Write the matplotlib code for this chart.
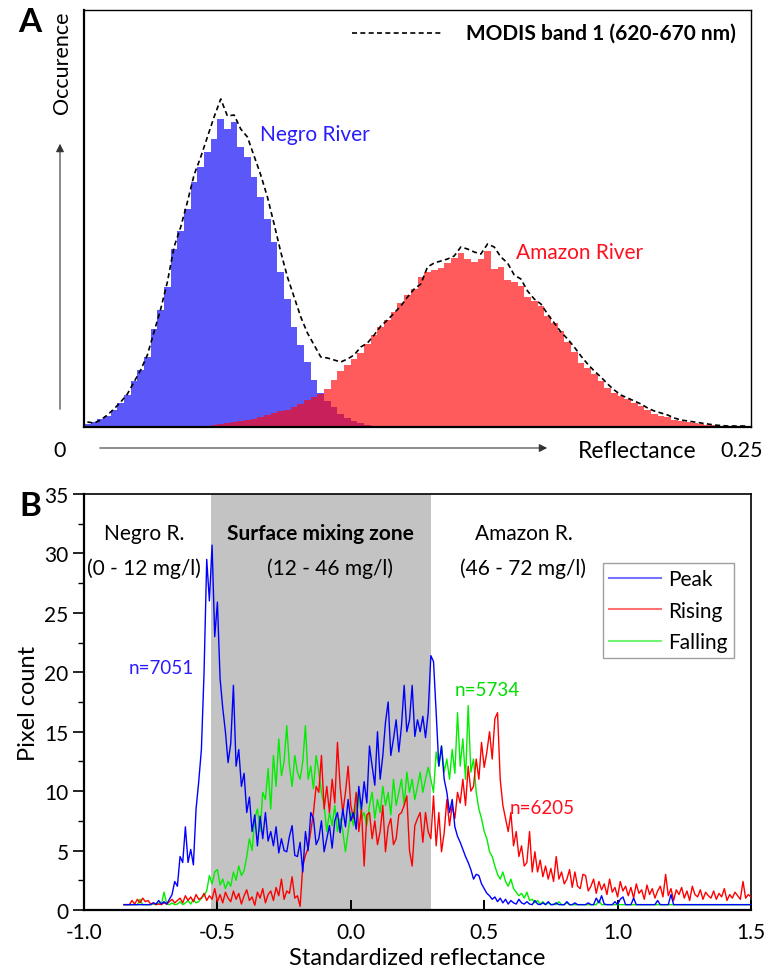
import matplotlib
matplotlib.use("Agg")
import matplotlib.pyplot as plt
import numpy as np

plt.rcParams['font.family'] = ['Lato', 'DejaVu Sans']
plt.rcParams['axes.unicode_minus'] = False

# ---------------- Panel A: reflectance histograms (arbitrary occurrence units) ----------------
refl_edges = np.linspace(0, 0.25, 101)
refl_centers = 0.5 * (refl_edges[:-1] + refl_edges[1:])

negro_hist = [
    3, 5, 8, 11, 17, 24, 32, 46, 57, 70,
    98, 117, 140, 178, 196, 218, 245, 260, 275, 288,
    308, 298, 305, 280, 270, 250, 230, 208, 185, 155,
    128, 100, 82, 65, 47, 34, 26, 20, 13, 9,
    6, 4, 2, 1, 0.5, 0, 0, 0, 0, 0,
    0, 0, 0, 0, 0, 0, 0, 0, 0, 0,
    0, 0, 0, 0, 0, 0, 0, 0, 0, 0,
    0, 0, 0, 0, 0, 0, 0, 0, 0, 0,
    0, 0, 0, 0, 0, 0, 0, 0, 0, 0,
    0, 0, 0, 0, 0, 0, 0, 0, 0, 0,
]
amazon_hist = [
    0, 0, 0, 0, 0, 0, 0, 0, 0, 0,
    0, 0, 0, 0, 0, 0, 0, 0, 0.5, 2,
    3, 4, 5, 6, 7, 8, 10, 12, 14, 16,
    17, 20, 23, 27, 30, 33, 38, 47, 56, 62,
    68, 74, 83, 92, 100, 107, 115, 124, 132, 138,
    150, 155, 157, 159, 164, 169, 174, 168, 165, 168,
    176, 158, 160, 147, 145, 141, 130, 126, 121, 111,
    104, 96, 85, 75, 64, 59, 53, 46, 39, 34,
    31, 28, 24, 21, 17, 13, 11, 10, 7, 6,
    5, 4, 3, 2, 2, 1, 1, 0.5, 0.5, 0.5,
]
modis_hist = [
    5, 4, 7, 12, 18, 25, 33, 45, 57, 72,
    95, 118, 145, 180, 200, 225, 252, 270, 290, 310,
    328, 311, 312, 298, 290, 271, 252, 230, 203, 175,
    150, 130, 110, 94, 82, 70, 69, 67, 65, 68,
    72, 80, 84, 92, 101, 107, 114, 121, 130, 138,
    143, 160, 164, 166, 168, 171, 180, 178, 175, 173,
    183, 180, 170, 164, 152, 148, 136, 128, 123, 113,
    104, 95, 88, 80, 71, 63, 56, 50, 43, 37,
    32, 29, 26, 23, 19, 16, 14, 12, 9, 7,
    6, 5, 4, 3, 2, 1.5, 1, 1, 1, 1,
]

# ---------------- Panel B: standardized reflectance pixel counts ----------------
std_refl = np.round(np.arange(-0.85, 1.505, 0.01), 2)

peak = [
    0.45, 0.45, 0.45, 0.45, 0.45, 0.45, 0.45, 0.45, 0.45, 0.45,
    0.45, 0.6, 0.5, 0.8, 0.5, 0.7, 0.5, 0.9, 1.3, 2.4,
    2.0, 4.5, 4.0, 7.0, 4.0, 5.1, 3.8, 8.5, 10.8, 13.5,
    20.0, 29.5, 26.0, 30.7, 23.0, 25.9, 19.5, 17.0, 15.0, 12.4,
    14.0, 18.9, 12.1, 13.5, 10.4, 11.5, 8.2, 9.5, 6.6, 8.0,
    5.4, 7.9, 6.0, 8.2, 5.8, 6.6, 5.4, 7.0, 4.8, 6.0,
    5.0, 4.9, 6.2, 7.1, 4.6, 4.5, 5.7, 3.2, 6.6, 5.0,
    8.2, 7.7, 5.5, 6.0, 7.5, 4.9, 6.0, 7.1, 5.2, 7.5,
    8.2, 6.5, 8.5, 7.0, 9.3, 7.5, 8.2, 6.8, 10.4, 8.5,
    10.8, 9.0, 13.8, 12.1, 10.5, 15.0, 11.0, 13.0, 15.8, 17.5,
    13.0, 14.4, 16.0, 13.3, 15.5, 18.9, 15.0, 16.0, 18.9, 14.6,
    16.0, 15.0, 16.3, 14.5, 16.6, 21.4, 20.9, 16.6, 12.1, 13.8,
    11.0, 9.9, 8.2, 9.3, 7.0, 6.2, 5.7, 5.1, 4.5, 4.0,
    3.4, 2.6, 3.0, 2.9, 2.2, 1.8, 1.4, 1.2, 0.9, 1.1,
    0.7, 1.0, 0.6, 0.9, 0.5, 0.8, 0.6, 0.5, 0.9, 0.6,
    0.5, 0.7, 0.5, 0.45, 0.8, 0.5, 0.45, 0.6, 0.45, 0.7,
    0.45, 0.45, 0.6, 0.45, 0.45, 0.45, 0.7, 0.45, 0.45, 0.6,
    0.45, 0.45, 0.45, 0.45, 0.6, 0.45, 0.45, 1.0, 0.6, 1.2,
    0.5, 0.45, 0.45, 0.45, 0.7, 0.45, 0.9, 1.1, 0.45, 0.45,
    0.45, 1.0, 0.45, 0.45, 0.45, 0.45, 0.45, 0.45, 0.45, 0.45,
    0.8, 0.45, 0.45, 0.45, 0.45, 1.3, 0.45, 0.45, 0.45, 0.45,
    0.45, 0.45, 0.45, 0.45, 0.45, 0.45, 0.45, 0.45, 0.45, 0.45,
    0.45, 0.45, 0.45, 0.45, 0.45, 0.45, 0.45, 0.45, 0.45, 0.45,
    0.45, 0.45, 0.45, 0.45, 0.45, 0.45,
]
rising = [
    0.45, 0.45, 0.45, 0.8, 0.5, 0.9, 0.6, 1.0, 0.7, 0.8,
    0.5, 0.6, 0.45, 0.5, 0.45, 0.6, 0.5, 0.7, 0.9, 0.6,
    0.8, 1.0, 0.6, 1.2, 0.8, 1.1, 0.7, 1.3, 0.9, 1.0,
    1.4, 0.8, 1.2, 0.9, 1.8, 0.7, 1.3, 0.6, 1.5, 1.0,
    0.7, 1.6, 0.9, 1.4, 0.5, 1.2, 1.7, 0.8, 1.1, 0.4,
    1.5, 1.0, 1.8, 0.6, 1.3, 1.6, 0.8, 1.9, 1.2, 2.6,
    0.9, 1.6, 1.4, 2.8, 1.0, 1.2, 0.3, 3.7, 4.6, 5.2,
    6.6, 8.2, 10.4, 9.9, 13.0, 8.5, 10.4, 8.2, 11.0, 9.0,
    14.1, 10.4, 8.2, 9.9, 12.1, 8.8, 7.7, 9.9, 6.6, 8.5,
    3.7, 8.0, 8.2, 6.0, 7.5, 5.5, 6.6, 8.8, 4.9, 7.0,
    7.7, 5.5, 6.0, 8.0, 8.2, 8.8, 9.6, 5.0, 3.7, 7.1,
    7.7, 8.2, 5.7, 8.2, 6.6, 6.0, 9.6, 5.4, 8.2, 4.9,
    6.5, 9.3, 7.1, 8.8, 7.7, 9.9, 9.0, 11.0, 8.8, 12.1,
    10.0, 10.4, 12.7, 11.0, 14.1, 12.0, 13.3, 15.0, 12.7, 16.1,
    16.6, 11.0, 8.8, 7.7, 6.6, 8.2, 5.4, 6.6, 4.5, 5.4,
    3.7, 4.0, 6.6, 3.2, 4.9, 3.2, 4.2, 2.8, 3.7, 2.6,
    3.5, 2.4, 4.5, 2.6, 3.2, 2.2, 2.6, 3.4, 1.9, 3.2,
    2.0, 1.8, 3.0, 2.9, 1.6, 2.0, 2.6, 1.4, 2.4, 1.7,
    2.2, 1.3, 2.6, 1.5, 1.9, 1.1, 2.4, 1.6, 2.0, 1.2,
    1.9, 1.0, 2.2, 1.4, 1.7, 0.9, 2.1, 1.3, 1.8, 1.0,
    1.6, 2.0, 1.1, 3.0, 1.2, 1.8, 0.8, 1.7, 1.3, 1.9,
    1.0, 1.6, 0.8, 2.0, 1.3, 1.1, 1.7, 0.9, 1.5, 1.2,
    1.0, 1.6, 0.9, 1.4, 1.1, 1.8, 0.8, 1.3, 1.0, 1.5,
    1.2, 0.9, 2.4, 1.0, 1.3, 1.1,
]
falling = [
    0.45, 0.45, 0.45, 0.45, 0.45, 0.45, 0.9, 0.45, 0.45, 0.45,
    0.45, 0.5, 0.45, 0.6, 0.45, 1.5, 0.5, 0.45, 0.6, 0.45,
    0.5, 0.7, 0.45, 0.6, 0.8, 0.5, 0.9, 0.6, 0.7, 1.0,
    1.2, 1.6, 2.9, 2.2, 3.2, 3.4, 2.1, 2.6, 1.8, 2.4,
    2.0, 3.2, 2.5, 3.7, 2.9, 3.3, 4.5, 6.0, 5.0, 7.7,
    8.5, 6.6, 9.9, 9.3, 11.9, 8.5, 13.0, 10.4, 14.4, 11.3,
    12.5, 15.5, 12.1, 10.4, 13.0, 11.6, 11.0, 12.5, 15.5, 11.0,
    12.1, 10.2, 13.0, 11.6, 9.9, 8.8, 6.6, 8.2, 7.1, 8.8,
    6.6, 7.7, 6.6, 4.9, 6.6, 8.2, 7.1, 8.8, 9.9, 7.7,
    8.2, 7.1, 8.8, 9.9, 7.7, 9.3, 8.2, 10.4, 8.8, 9.9,
    8.0, 11.0, 8.8, 9.9, 11.0, 8.8, 11.6, 9.9, 11.0, 9.3,
    10.4, 11.6, 9.9, 11.0, 12.0, 11.0, 9.9, 13.3, 12.1, 13.8,
    11.6, 12.7, 11.0, 13.5, 11.5, 16.6, 12.1, 14.4, 11.0, 17.2,
    11.6, 12.7, 9.9, 8.5, 7.7, 6.6, 6.0, 4.9, 4.5, 3.7,
    3.0, 2.6, 3.2, 2.4, 2.0, 2.6, 1.8, 1.5, 1.2, 1.4,
    1.0, 1.5, 0.8, 0.9, 0.6, 0.8, 0.5, 0.7, 0.45, 0.6,
    0.45, 0.5, 0.45, 0.7, 0.45, 0.45, 0.6, 0.45, 0.45, 0.45,
    0.45, 0.45, 0.45, 0.45, 0.45, 0.45, 0.45, 0.45, 0.8, 0.45,
    0.45, 0.45, 0.45, 0.45, 0.45, 0.45, 0.45, 0.45, 0.45, 0.45,
    0.45, 0.45, 0.45, 0.45, 0.45, 0.45, 0.45, 0.45, 0.45, 0.45,
    0.45, 0.45, 0.45, 0.45, 0.45, 0.45, 0.45, 0.45, 0.45, 0.45,
    0.45, 0.45, 0.45, 0.45, 0.45, 0.45, 0.45, 0.45, 0.45, 0.45,
    0.45, 0.45, 0.45, 0.45, 0.45, 0.45, 0.45, 0.45, 0.45, 0.45,
    0.45, 0.45, 0.45, 0.45, 0.45, 0.45,
]

W, H = 766, 970
fig = plt.figure(figsize=(W / 100, H / 100), dpi=100)


def fx(px):
    return px / W


def fy(py):
    return 1 - py / H


# ---------------- Panel A ----------------
ax_a = fig.add_axes([fx(84), fy(428), fx(751) - fx(84), fy(11) - fy(428)])
blue_c = '#5b57f9'
red_c = '#ff5a5c'
over_c = '#c8205a'
ax_a.stairs(negro_hist, refl_edges, fill=True, color=blue_c, lw=0)
ax_a.stairs(amazon_hist, refl_edges, fill=True, color=red_c, lw=0)
ax_a.stairs(np.minimum(negro_hist, amazon_hist), refl_edges, fill=True, color=over_c, lw=0)
ax_a.plot(refl_centers, modis_hist, color='black', ls=(0, (3, 2)), lw=1.2)
ax_a.set_xlim(0, 0.25)
ax_a.set_ylim(0, 417)
ax_a.set_xticks([])
ax_a.set_yticks([])
for s in ['left', 'bottom']:
    ax_a.spines[s].set_linewidth(1.6)
for s in ['top', 'right']:
    ax_a.spines[s].set_linewidth(1.0)

fig.text(fx(315), fy(135), 'Negro River', color='#2a1cff', fontsize=15,
         ha='center', va='center')
fig.text(fx(580), fy(253), 'Amazon River', color='#ff1020', fontsize=15,
         ha='center', va='center')

# legend-like label for MODIS envelope
fig.add_artist(plt.Line2D([fx(352), fx(443)], [fy(34), fy(34)], color='black',
                          ls=(0, (3, 2)), lw=1.2))
fig.text(fx(466), fy(34), 'MODIS band 1 (620-670 nm)', fontsize=15, fontweight='bold',
         va='center', ha='left')

fig.text(fx(30), fy(22), 'A', fontsize=24, fontweight='bold', ha='center', va='center')
fig.text(fx(62), fy(63), 'Occurence', fontsize=15.5, rotation=90, ha='center', va='center')
fig.text(fx(60), fy(451), '0', fontsize=15.5, ha='center', va='center')
fig.text(fx(637), fy(451), 'Reflectance', fontsize=16.5, ha='center', va='center')
fig.text(fx(742), fy(451), '0.25', fontsize=15.5, ha='center', va='center')
ax_a.annotate('', xy=(fx(60), fy(142)), xytext=(fx(60), fy(413)), xycoords='figure fraction',
              arrowprops=dict(arrowstyle='-|>', lw=0.8, color='#333333', mutation_scale=12),
              annotation_clip=False)
ax_a.annotate('', xy=(fx(550), fy(449)), xytext=(fx(97), fy(449)), xycoords='figure fraction',
              arrowprops=dict(arrowstyle='-|>', lw=0.8, color='#333333', mutation_scale=12),
              annotation_clip=False)

# ---------------- Panel B ----------------
ax_b = fig.add_axes([fx(84), fy(911), fx(751) - fx(84), fy(495) - fy(911)])
ax_b.axvspan(-0.525, 0.30, color='#c3c3c3', lw=0, zorder=0)
ax_b.plot(std_refl, falling, color='#00ee00', lw=1.0, label='Falling', zorder=2)
ax_b.plot(std_refl, rising, color='#ff0000', lw=1.0, label='Rising', zorder=3)
ax_b.plot(std_refl, peak, color='#0000ff', lw=1.0, label='Peak', zorder=4)
ax_b.set_xlim(-1.0, 1.5)
ax_b.set_ylim(0, 35)
ax_b.set_xticks([-1.0, -0.5, 0.0, 0.5, 1.0, 1.5])
ax_b.set_xticklabels(['-1.0', '-0.5', '0.0', '0.5', '1.0', '1.5'])
ax_b.set_yticks(np.arange(0, 36, 5))
ax_b.set_yticks(np.arange(2.5, 35, 5), minor=True)
ax_b.tick_params(axis='x', direction='in', length=7, width=1.4, labelsize=15, pad=9)
ax_b.tick_params(axis='y', which='major', direction='out', length=8, width=1.2,
                 labelsize=15, pad=3)
ax_b.tick_params(axis='y', which='minor', direction='out', length=4, width=1.0)
for s in ['left', 'bottom']:
    ax_b.spines[s].set_linewidth(1.6)
for s in ['top', 'right']:
    ax_b.spines[s].set_linewidth(1.2)
ax_b.set_xlabel('Standardized reflectance', fontsize=17, labelpad=3)
ax_b.set_ylabel('Pixel count', fontsize=17, labelpad=4)

handles, labels = ax_b.get_legend_handles_labels()
order = [2, 1, 0]
leg = ax_b.legend([handles[i] for i in order], [labels[i] for i in order],
                  loc='upper left', bbox_to_anchor=(0.778, 0.834), borderaxespad=0,
                  frameon=True, fancybox=False, edgecolor='#888888', fontsize=15,
                  handlelength=2.5, handletextpad=0.35, labelspacing=0.55,
                  borderpad=0.3)
leg.get_frame().set_linewidth(1.0)
for ln in leg.get_lines():
    ln.set_alpha(0.55)
    ln.set_linewidth(1.5)

fig.text(fx(144), fy(534), 'Negro R.', fontsize=15, ha='center', va='center')
fig.text(fx(144), fy(569), '(0 - 12 mg/l)', fontsize=15, ha='center', va='center')
fig.text(fx(320), fy(534), 'Surface mixing zone', fontsize=15, fontweight='bold',
         ha='center', va='center')
fig.text(fx(330), fy(569), '(12 - 46 mg/l)', fontsize=15, ha='center', va='center')
fig.text(fx(524), fy(534), 'Amazon R.', fontsize=15, ha='center', va='center')
fig.text(fx(523), fy(569), '(46 - 72 mg/l)', fontsize=15, ha='center', va='center')
fig.text(fx(161), fy(668), 'n=7051', fontsize=13.5, color='#2a1cff', ha='center', va='center')
fig.text(fx(487), fy(690), 'n=5734', fontsize=13.5, color='#00dd00', ha='center', va='center')
fig.text(fx(542), fy(808), 'n=6205', fontsize=13.5, color='#ff1020', ha='center', va='center')
fig.text(fx(30), fy(506), 'B', fontsize=24, fontweight='bold', ha='center', va='center')

fig.savefig('out.png', dpi=100)
